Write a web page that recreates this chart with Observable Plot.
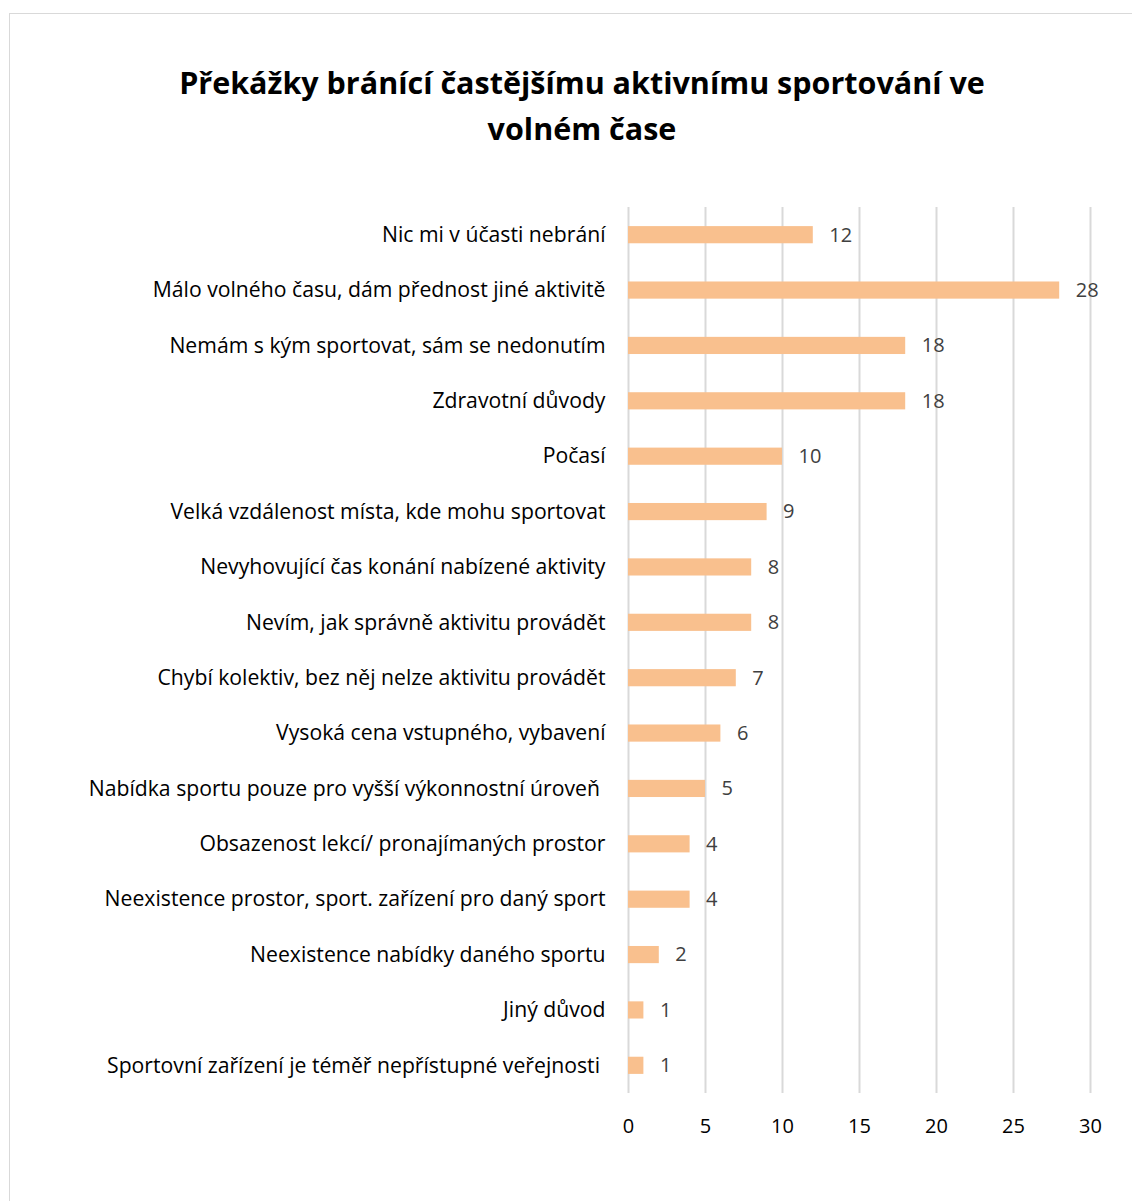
<!DOCTYPE html>
<html>
<head>
<meta charset="utf-8">
<script src="https://cdn.jsdelivr.net/npm/d3@7"></script>
<script src="https://cdn.jsdelivr.net/npm/@observablehq/plot@0.6"></script>
<style>
  html, body { margin: 0; padding: 0; background: #fff; }
  body { width: 1132px; height: 1201px; position: relative; overflow: hidden; font-family: "Open Sans", sans-serif; }
  #frame { position: absolute; left: 9px; top: 13px; width: 1140px; height: 1200px; border: 1.5px solid #d9d9d9; box-sizing: border-box; }
  #title { position: absolute; left: 0; top: 59px; width: 1164px; text-align: center; font-weight: 700; font-size: 30.5px; line-height: 46px; color: #000; }
  #chart { position: absolute; left: 0; top: 160px; }
</style>
</head>
<body>
<div id="frame"></div>
<div id="title">Překážky bránící častějšímu aktivnímu sportování ve<br>volném čase</div>
<div id="chart"></div>
<script>
const categories = [
  "Nic mi v účasti nebrání",
  "Málo volného času, dám přednost jiné aktivitě",
  "Nemám s kým sportovat, sám se nedonutím",
  "Zdravotní důvody",
  "Počasí",
  "Velká vzdálenost místa, kde mohu sportovat",
  "Nevyhovující čas konání nabízené aktivity",
  "Nevím, jak správně aktivitu provádět",
  "Chybí kolektiv, bez něj nelze aktivitu provádět",
  "Vysoká cena vstupného, vybavení",
  "Nabídka sportu pouze pro vyšší výkonnostní úroveň ",
  "Obsazenost lekcí/ pronajímaných prostor",
  "Neexistence prostor, sport. zařízení pro daný sport",
  "Neexistence nabídky daného sportu",
  "Jiný důvod",
  "Sportovní zařízení je téměř nepřístupné veřejnosti "
];
const values = [12, 28, 18, 18, 10, 9, 8, 8, 7, 6, 5, 4, 4, 2, 1, 1];
const xTicks = [0, 5, 10, 15, 20, 25, 30];

const data = categories.map((c, i) => ({category: c, value: values[i]}));

const chart = Plot.plot({
  width: 1132,
  height: 993,
  marginLeft: 628,
  marginRight: 42,
  marginTop: 47,
  marginBottom: 60,
  style: {fontFamily: "Open Sans, sans-serif", fontSize: "21px", color: "#000", background: "transparent"},
  x: {domain: [0, 30], ticks: xTicks, label: null, grid: false},
  y: {domain: categories, label: null, paddingInner: 0.69, paddingOuter: 0.345, round: false},
  marks: [
    Plot.ruleX(xTicks, {stroke: "#d9d9d9", strokeWidth: 2}),
    Plot.barX(data, {x: "value", y: "category", fill: "#F9C08E"}),
    Plot.text(data, {x: "value", y: "category", text: d => String(d.value), textAnchor: "start", dx: 16, fill: "#404040", fontSize: 20}),
    Plot.axisY({tickSize: 0, tickPadding: 23, fontSize: 21.2, fill: "#000"}),
    Plot.axisX({ticks: xTicks, tickSize: 0, tickPadding: 25, fontSize: 20, fill: "#000", label: null})
  ]
});
document.getElementById("chart").appendChild(chart);
</script>
</body>
</html>
